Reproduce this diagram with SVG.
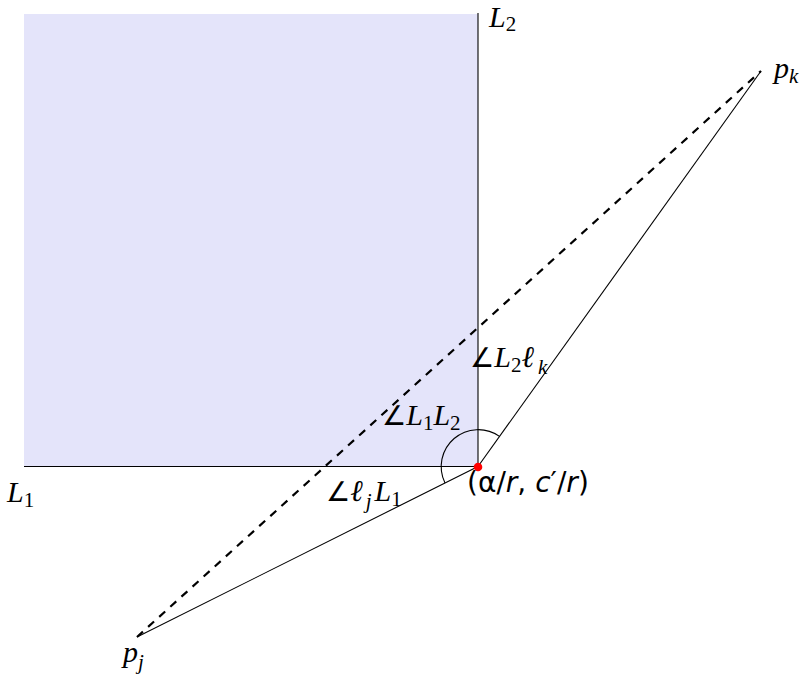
<svg xmlns="http://www.w3.org/2000/svg" width="806" height="675" viewBox="0 0 806 675">
<style>
.m{font-family:"Liberation Serif","DejaVu Serif",serif;font-style:italic;font-size:30px;fill:#000}
.s{font-size:21px}
.sn{font-size:21px;font-style:normal}
.d{font-family:"DejaVu Sans",sans-serif;font-size:28px;fill:#000}
.ang{font-family:"DejaVu Sans",sans-serif;font-style:normal;font-size:27px}
.line{stroke:#000;stroke-width:1.1;fill:none}
</style>
<rect id="region" x="24" y="14" width="454" height="452.5" fill="#e4e4fa"/>
<g id="connectors">
  <line class="line" x1="478" y1="13" x2="478" y2="466.5"/>
  <line class="line" x1="24" y1="466.5" x2="478" y2="466.5" stroke-width="1.5"/>
  <line class="line" x1="478" y1="466.5" x2="761" y2="71"/>
  <line class="line" x1="478" y1="466.5" x2="137" y2="637"/>
  <line x1="137" y1="637" x2="761" y2="71" stroke="#000" stroke-width="2.2" stroke-dasharray="8,7" fill="none"/>
  <path class="line" d="M499.5,436.4 A37,37 0 0 0 445,483"/>
</g>
<g id="corner"><circle cx="478" cy="467" r="4.3" fill="#ff0000"/></g>
<g id="L2"><text class="m" x="489" y="27">L<tspan class="sn" dy="4">2</tspan></text></g>
<g id="L1"><text class="m" x="7" y="502">L<tspan class="sn" dy="5">1</tspan></text></g>
<g id="pk"><text class="m" x="774" y="78">p<tspan class="s" dy="5" font-size="23">k</tspan></text></g>
<g id="pj"><text class="m" x="123" y="662">p<tspan class="s" dy="7">j</tspan></text></g>
<g id="angL1L2"><text class="m" x="382" y="425"><tspan class="ang">∠</tspan>L<tspan class="sn" dy="5">1</tspan><tspan dy="-5">L</tspan><tspan class="sn" dy="5">2</tspan></text></g>
<g id="angL2lk"><text class="m" x="470" y="367"><tspan class="ang">∠</tspan>L<tspan class="sn" dy="5">2</tspan><tspan dy="-5">ℓ</tspan><tspan class="s" dx="4" dy="7">k</tspan></text></g>
<g id="angljL1"><text class="m" x="326" y="501"><tspan class="ang">∠</tspan>ℓ<tspan class="s" dx="3" dy="7">j</tspan><tspan dx="3" dy="-7">L</tspan><tspan class="sn" dy="5">1</tspan></text></g>
<g id="coord"><text class="d" x="467" y="492">(α/<tspan font-style="italic">r</tspan>, <tspan font-style="italic">c</tspan>′/<tspan font-style="italic">r</tspan>)</text></g>
</svg>
